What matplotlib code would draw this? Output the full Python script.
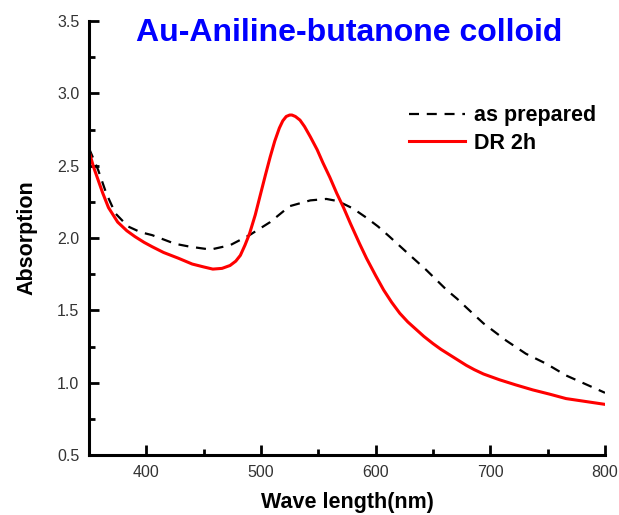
import matplotlib
matplotlib.use("Agg")
import matplotlib.pyplot as plt
from matplotlib.ticker import MultipleLocator

plt.rcParams['font.family'] = ['Liberation Sans', 'DejaVu Sans']

# as prepared (dashed black)
wl_prep = [350, 358, 365, 373, 384, 395, 405, 425, 438, 456, 473, 490, 508, 525,
           543, 557, 567, 580, 592, 602, 612, 621, 630, 644, 653, 662, 671, 679,
           694, 704, 714, 731, 749, 766, 783, 800]
abs_prep = [2.62, 2.47, 2.31, 2.17, 2.08, 2.04, 2.02, 1.96, 1.94, 1.92, 1.95, 2.02,
            2.11, 2.22, 2.26, 2.27, 2.255, 2.205, 2.14, 2.08, 2.01, 1.945, 1.88,
            1.78, 1.71, 1.64, 1.58, 1.52, 1.41, 1.35, 1.29, 1.20, 1.13, 1.05,
            0.99, 0.93]

# DR 2h (red)
wl_dr = [350, 354, 358, 362, 367, 375, 383, 390, 398, 405, 415, 428, 440, 450, 458,
         466, 473, 478, 482, 486, 490, 495, 499, 504, 508, 512, 516, 519, 522, 525,
         527, 530, 534, 538, 543, 549, 554, 560, 566, 572, 578, 586, 592, 600, 607,
         614, 621, 628, 635, 642, 650, 657, 665, 672, 679, 686, 694, 708, 722, 737,
         752, 766, 783, 800]
abs_dr = [2.60, 2.49, 2.40, 2.31, 2.21, 2.11, 2.05, 2.01, 1.97, 1.94, 1.90, 1.86,
          1.82, 1.80, 1.785, 1.79, 1.81, 1.84, 1.88, 1.95, 2.03, 2.16, 2.285, 2.44,
          2.56, 2.67, 2.76, 2.81, 2.84, 2.85, 2.85, 2.84, 2.815, 2.77, 2.70, 2.61,
          2.52, 2.42, 2.31, 2.21, 2.10, 1.96, 1.86, 1.74, 1.64, 1.555, 1.48, 1.42,
          1.37, 1.32, 1.27, 1.23, 1.19, 1.155, 1.12, 1.09, 1.06, 1.02, 0.985,
          0.95, 0.92, 0.89, 0.87, 0.85]

fig = plt.figure(figsize=(6.19, 5.15), dpi=100)
ax = fig.add_axes([89/619, 60/515, 516/619, 434/515])

ax.plot(wl_prep, abs_prep, color='black', lw=1.6, ls=(0, (4.5, 3.5)), label='as prepared')
ax.plot(wl_dr, abs_dr, color='#ff0000', lw=2.2, label='DR 2h')

ax.set_xlim(350, 800)
ax.set_ylim(0.5, 3.5)
ax.xaxis.set_major_locator(MultipleLocator(100))
ax.xaxis.set_minor_locator(MultipleLocator(50))
ax.yaxis.set_major_locator(MultipleLocator(0.5))
ax.yaxis.set_minor_locator(MultipleLocator(0.25))
ax.yaxis.set_major_formatter(matplotlib.ticker.FormatStrFormatter('%.1f'))

for s in ['top', 'right']:
    ax.spines[s].set_visible(False)
for s in ['left', 'bottom']:
    ax.spines[s].set_linewidth(2.2)

ax.tick_params(which='major', direction='in', length=7, width=2, labelsize=11.5,
               labelcolor='#333333', pad=7)
ax.tick_params(which='minor', direction='in', length=4, width=2)

ax.set_xlabel('Wave length(nm)', fontsize=15.5, fontweight='bold', labelpad=9)
ax.set_ylabel('Absorption', fontsize=15.5, fontweight='bold', labelpad=14)

fig.text(349/619, 1 - 33/515, 'Au-Aniline-butanone colloid', color='#0000ff',
         fontsize=23, fontweight='bold', ha='center', va='center')

leg = ax.legend(loc='upper right', bbox_to_anchor=(1.02, 0.85), frameon=False,
                prop={'size': 15.5, 'weight': 'bold'}, handlelength=2.6,
                handletextpad=0.4, labelspacing=0.3)

fig.savefig('out.png', dpi=100)
